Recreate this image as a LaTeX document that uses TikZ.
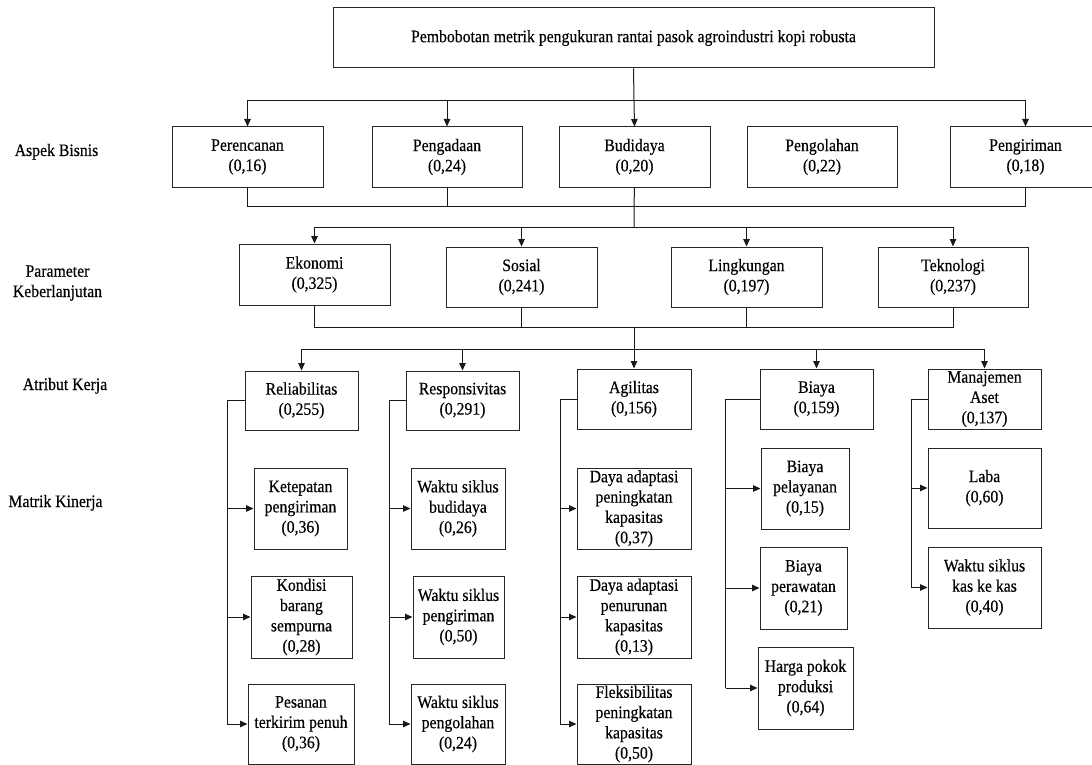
\documentclass[tikz,border=0pt]{standalone}
\usepackage{fontspec}
\setmainfont{Liberation Serif}[FakeStretch=0.9,FakeBold=0.4]
\usetikzlibrary{arrows.meta}
\newcommand\dfont{\fontsize{17.5pt}{20.3pt}\selectfont}
\begin{document}
\begin{tikzpicture}[x=1pt,y=-1pt,
  box/.style={draw=black!85, line width=1pt, inner sep=0pt, align=center, font=\dfont},
  lbl/.style={inner sep=0pt, align=center, font=\dfont},
  wire/.style={draw=black!90, line width=1pt},
  arr/.style={wire, -{Triangle[length=7.5pt,width=6.5pt]}}]
\useasboundingbox (0,0) rectangle (1092,765);

% left labels
\node[lbl, anchor=base] (lab1) at (56.5,156) {Aspek Bisnis};
\node[lbl] (lab2) at (57.5,283) {Parameter\\Keberlanjutan};
\node[lbl, anchor=base] (lab3) at (65,390) {Atribut Kerja};
\node[lbl, anchor=base] (lab4) at (55.5,507) {Matrik Kinerja};

% title
\node[box, minimum width=601pt, minimum height=60pt] (title) at (633.5,38) {Pembobotan metrik pengukuran rantai pasok agroindustri kopi robusta};

% aspek bisnis
\node[box, minimum width=151pt, minimum height=60pt] (per) at (247.5,157) {Perencanan\\(0,16)};
\node[box, minimum width=150pt, minimum height=60pt] (pgd) at (447,157) {Pengadaan\\(0,24)};
\node[box, minimum width=151pt, minimum height=60pt] (bud) at (634.5,157) {Budidaya\\(0,20)};
\node[box, minimum width=150pt, minimum height=60pt] (plh) at (822,157) {Pengolahan\\(0,22)};
\node[box, minimum width=151pt, minimum height=60pt] (pgr) at (1025.5,157) {Pengiriman\\(0,18)};

% parameter keberlanjutan
\node[box, minimum width=151pt, minimum height=61pt] (eko) at (314.5,274.5) {Ekonomi\\(0,325)};
\node[box, minimum width=151pt, minimum height=60pt] (sos) at (521.5,277) {Sosial\\(0,241)};
\node[box, minimum width=151pt, minimum height=60pt] (lin) at (746.5,277) {Lingkungan\\(0,197)};
\node[box, minimum width=150pt, minimum height=60pt] (tek) at (953,277) {Teknologi\\(0,237)};

% atribut kerja
\node[box, minimum width=113pt, minimum height=59pt] (rel) at (301.5,400.5) {Reliabilitas\\(0,255)};
\node[box, minimum width=113pt, minimum height=59pt] (res) at (462.5,400.5) {Responsivitas\\(0,291)};
\node[box, minimum width=114pt, minimum height=60pt] (agi) at (634,399) {Agilitas\\(0,156)};
\node[box, minimum width=113pt, minimum height=60pt] (bia) at (816.5,399) {Biaya\\(0,159)};
\node[box, minimum width=113pt, minimum height=60pt] (man) at (984.5,399) {Manajemen\\Aset\\(0,137)};

% matrik kinerja
\node[box, minimum width=93pt, minimum height=81pt] (m11) at (300.5,508.5) {Ketepatan\\pengiriman\\(0,36)};
\node[box, minimum width=101pt, minimum height=82pt] (m12) at (301.5,617) {Kondisi\\barang\\sempurna\\(0,28)};
\node[box, minimum width=106pt, minimum height=80pt] (m13) at (301,724) {Pesanan\\terkirim penuh\\(0,36)};

\node[box, minimum width=94pt, minimum height=81pt] (m21) at (458,508.5) {Waktu siklus\\budidaya\\(0,26)};
\node[box, minimum width=91pt, minimum height=82pt] (m22) at (458.5,617) {Waktu siklus\\pengiriman\\(0,50)};
\node[box, minimum width=94pt, minimum height=80pt] (m23) at (458,724) {Waktu siklus\\pengolahan\\(0,24)};

\node[box, minimum width=114pt, minimum height=81pt] (m31) at (634,508.5) {Daya adaptasi\\peningkatan\\kapasitas\\(0,37)};
\node[box, minimum width=114pt, minimum height=82pt] (m32) at (634,617) {Daya adaptasi\\penurunan\\kapasitas\\(0,13)};
\node[box, minimum width=114pt, minimum height=80pt] (m33) at (634,724) {Fleksibilitas\\peningkatan\\kapasitas\\(0,50)};

\node[box, minimum width=88pt, minimum height=81pt] (m41) at (805,488.5) {Biaya\\pelayanan\\(0,15)};
\node[box, minimum width=87pt, minimum height=82pt] (m42) at (803.5,588) {Biaya\\perawatan\\(0,21)};
\node[box, minimum width=95pt, minimum height=82pt] (m43) at (805.5,688) {Harga pokok\\produksi\\(0,64)};

\node[box, minimum width=113pt, minimum height=80pt] (m51) at (984.5,488) {Laba\\(0,60)};
\node[box, minimum width=113pt, minimum height=81pt] (m52) at (984.5,587.5) {Waktu siklus\\kas ke kas\\(0,40)};

% level 1 connectors
\coordinate (b1) at (634,101);
\draw[wire] (title.south) -- (b1);
\draw[arr] (b1) -| (per.north);
\draw[arr] (b1) -| (pgd.north);
\draw[arr] (b1) -- (bud.north);
\draw[arr] (b1) -| (pgr.north);

% level 2 connectors
\coordinate (b2) at (634,206);
\coordinate (b3) at (634,227);
\draw[wire] (per.south) |- (b2);
\draw[wire] (pgr.south) |- (b2);
\draw[wire] (pgd.south) -- (pgd.south |- b2);
\draw[wire] (bud.south) -- (b2) -- (b3);
\draw[arr] (b3) -| (eko.north);
\draw[arr] (b3) -| (sos.north);
\draw[arr] (b3) -| (lin.north);
\draw[arr] (b3) -| (tek.north);

% level 3 connectors
\coordinate (b4) at (634,327);
\coordinate (b5) at (634,349);
\draw[wire] (eko.south) |- (b4);
\draw[wire] (tek.south) |- (b4);
\draw[wire] (sos.south) -- (sos.south |- b4);
\draw[wire] (lin.south) -- (lin.south |- b4);
\draw[wire] (b4) -- (b5);
\draw[arr] (b5) -| (rel.north);
\draw[arr] (b5) -| (res.north);
\draw[arr] (b5) -- (agi.north);
\draw[arr] (b5) -| (bia.north);
\draw[arr] (b5) -| (man.north);

% brackets
\coordinate (v1) at (227,400.5);
\draw[wire] (rel.west) -- (v1) -- (v1 |- m13.west);
\draw[arr] (v1 |- m11.west) -- (m11.west);
\draw[arr] (v1 |- m12.west) -- (m12.west);
\draw[arr] (v1 |- m13.west) -- (m13.west);

\coordinate (v2) at (389,400.5);
\draw[wire] (res.west) -- (v2) -- (v2 |- m23.west);
\draw[arr] (v2 |- m21.west) -- (m21.west);
\draw[arr] (v2 |- m22.west) -- (m22.west);
\draw[arr] (v2 |- m23.west) -- (m23.west);

\coordinate (v3) at (560,399);
\draw[wire] (agi.west) -- (v3) -- (v3 |- m33.west);
\draw[arr] (v3 |- m31.west) -- (m31.west);
\draw[arr] (v3 |- m32.west) -- (m32.west);
\draw[arr] (v3 |- m33.west) -- (m33.west);

\coordinate (v4) at (725.5,399);
\draw[wire] (bia.west) -- (v4) -- (v4 |- m43.west);
\draw[arr] (v4 |- m41.west) -- (m41.west);
\draw[arr] (v4 |- m42.west) -- (m42.west);
\draw[arr] (v4 |- m43.west) -- (m43.west);

\coordinate (v5) at (911,399);
\draw[wire] (man.west) -- (v5) -- (v5 |- m52.west);
\draw[arr] (v5 |- m51.west) -- (m51.west);
\draw[arr] (v5 |- m52.west) -- (m52.west);
\end{tikzpicture}
\end{document}
